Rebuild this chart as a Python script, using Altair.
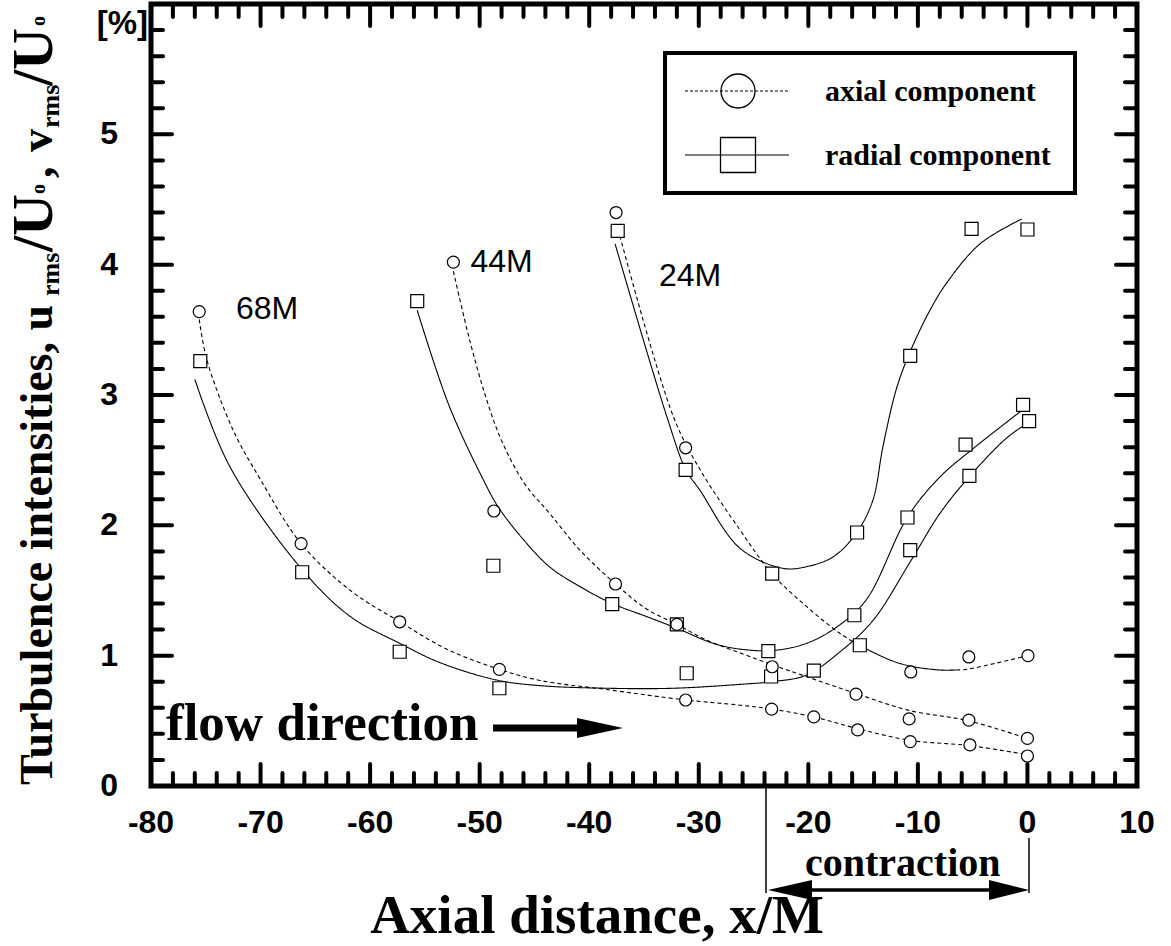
import altair as alt
import pandas as pd

# ---------------- measured points (x/M, intensity in %) ----------------
x68_axial = [-75.6, -66.3, -57.3, -48.2, -31.2, -23.35, -19.5, -15.5, -10.7, -5.25, 0.0]
y68_axial = [3.64, 1.86, 1.26, 0.895, 0.66, 0.59, 0.53, 0.43, 0.34, 0.315, 0.23]
x68_radial = [-75.5, -66.2, -57.3, -48.2, -31.1, -23.4, -19.5, -15.3, -10.7, -5.3, 0.15]
y68_radial = [3.26, 1.64, 1.03, 0.75, 0.865, 0.84, 0.885, 1.08, 1.81, 2.38, 2.80]

x44_axial = [-52.4, -48.7, -37.6, -32.0, -23.3, -15.65, -10.8, -5.35, 0.0]
y44_axial = [4.02, 2.11, 1.55, 1.24, 0.915, 0.705, 0.515, 0.505, 0.365]
x44_radial = [-55.7, -48.75, -37.9, -32.0, -23.65, -15.8, -10.95, -5.65, -0.4]
y44_radial = [3.72, 1.69, 1.395, 1.24, 1.035, 1.31, 2.06, 2.62, 2.925]

x24_axial = [-37.55, -31.2, -10.65, -5.35, 0.05]
y24_axial = [4.40, 2.595, 0.875, 0.99, 1.0]
x24_radial = [-37.4, -31.2, -23.3, -15.55, -10.7, -5.1, 0.0]
y24_radial = [4.26, 2.425, 1.63, 1.945, 3.30, 4.275, 4.27]

# ---------------- fitted curves ----------------
c68_axial_x = [-75.6, -74.9, -72.5, -70.0, -66.3, -61.8, -57.3, -53.0, -48.2, -44.5, -38.4, -31.2, -26.2, -23.35, -19.5, -15.5, -10.7, -5.3, 0.0]
c68_axial_y = [3.58, 3.27, 2.73, 2.35, 1.86, 1.50, 1.26, 1.05, 0.895, 0.81, 0.74, 0.66, 0.62, 0.59, 0.53, 0.44, 0.35, 0.31, 0.24]
c68_radial_x = [-76.0, -72.8, -66.2, -61.8, -57.3, -53.6, -48.45, -44.5, -38.4, -32.3, -26.2, -23.4, -20.2, -17.1, -14.1, -10.7, -8.0, -5.34, -1.9, -0.07]
c68_radial_y = [3.12, 2.45, 1.66, 1.30, 1.095, 0.946, 0.813, 0.77, 0.75, 0.75, 0.78, 0.80, 0.85, 1.03, 1.27, 1.72, 2.09, 2.37, 2.67, 2.78]

c44_axial_x = [-52.4, -51.0, -49.5, -48.0, -45.9, -43.6, -40.85, -37.6, -34.8, -32.0, -29.3, -26.2, -23.3, -20.2, -15.65, -10.8, -5.37, 0.0]
c44_axial_y = [3.95, 3.45, 3.0, 2.65, 2.32, 2.09, 1.81, 1.55, 1.36, 1.24, 1.12, 1.02, 0.93, 0.84, 0.71, 0.58, 0.50, 0.365]
c44_radial_x = [-55.7, -52.8, -49.67, -48.3, -46.0, -43.6, -40.85, -37.9, -34.76, -32.0, -28.7, -26.2, -23.2, -20.15, -17.4, -14.7, -10.97, -8.0, -4.94, -0.38]
c44_radial_y = [3.65, 2.92, 2.35, 2.14, 1.89, 1.68, 1.53, 1.40, 1.30, 1.21, 1.095, 1.05, 1.04, 1.095, 1.22, 1.43, 2.06, 2.37, 2.59, 2.89]

c24_axial_dot_x = [-37.2, -32.3, -29.9, -26.24, -23.3, -20.15, -17.1, -15.3]
c24_axial_dot_y = [4.22, 2.83, 2.43, 1.965, 1.627, 1.376, 1.17, 1.077]
c24_axial_solid_x = [-15.3, -12.55, -10.7, -8.0, -6.5]
c24_axial_solid_y = [1.077, 0.967, 0.92, 0.89, 0.89]
c24_axial_tail_x = [-6.5, -5.55, -3.0, 0.0]
c24_axial_tail_y = [0.89, 0.895, 0.94, 1.0]
c24_radial_x = [-37.64, -32.9, -31.2, -29.9, -26.24, -22.3, -20.15, -17.7, -15.56, -14.1, -13.2, -11.95, -10.72, -8.9, -7.37, -4.33, -0.53]
c24_radial_y = [4.16, 2.83, 2.43, 2.27, 1.824, 1.67, 1.683, 1.76, 1.947, 2.195, 2.60, 3.05, 3.33, 3.65, 3.86, 4.16, 4.35]

# ---------------- axis ticks ----------------
x_major = list(range(-80, 11, 10))
x_minor = [v for v in range(-78, 10, 2) if v % 10 != 0]
y_major = [0, 1, 2, 3, 4, 5, 6]
y_minor = [round(i * 0.2, 1) for i in range(1, 30) if i % 5 != 0]
x_labels = list(range(-80, 11, 10))
x_label_text = [str(v) for v in x_labels]
y_labels = [0, 1, 2, 3, 4, 5]
y_label_text = [str(v) for v in y_labels]

# ---------------- text ----------------
station_labels = ["68M", "44M", "24M"]
station_x = [-69.4, -48.0, -30.8]
station_y = [3.66, 4.02, 3.91]

legend_labels = ["axial component", "radial component"]

# y-axis title pieces (plain text and subscripts), drawn bottom-to-top
ytitle_parts = ["Turbulence intensities, u", "rms", "/U", "o", " ,", "v", "rms", "/U", "o"]
ytitle_sizes = [46, 26, 58, 20, 46, 46, 26, 58, 20]
ytitle_start = [781, 292, 248, 190, 174, 148, 124, 82, 22]
ytitle_base = [-99, -92, -99, -106, -99, -99, -92, -99, -106]

W, H = 986, 782

xs = alt.Scale(domain=[-80, 10], nice=False, zero=False)
ys = alt.Scale(domain=[0, 6], nice=False, zero=False)

# ---------------- data tables ----------------
pts = []
for xv, yv, comp in [
    (x68_axial, y68_axial, "axial"), (x68_radial, y68_radial, "radial"),
    (x44_axial, y44_axial, "axial"), (x44_radial, y44_radial, "radial"),
    (x24_axial, y24_axial, "axial"), (x24_radial, y24_radial, "radial"),
]:
    for a, b in zip(xv, yv):
        pts.append({"x": a, "y": b, "comp": comp})
pts = pd.DataFrame(pts)

curves = []
for name, xv, yv, style in [
    ("68a", c68_axial_x, c68_axial_y, "dot"),
    ("68r", c68_radial_x, c68_radial_y, "solid"),
    ("44a", c44_axial_x, c44_axial_y, "dot"),
    ("44r", c44_radial_x, c44_radial_y, "solid"),
    ("24a1", c24_axial_dot_x, c24_axial_dot_y, "dot"),
    ("24a2", c24_axial_solid_x, c24_axial_solid_y, "solid"),
    ("24a3", c24_axial_tail_x, c24_axial_tail_y, "dot"),
    ("24r", c24_radial_x, c24_radial_y, "solid"),
]:
    for a, b in zip(xv, yv):
        curves.append({"x": a, "y": b, "curve": name, "style": style})
curves = pd.DataFrame(curves)

X = lambda f: alt.X(f, scale=xs, axis=None)
Y = lambda f: alt.Y(f, scale=ys, axis=None)

lines = alt.Chart(curves).mark_line(interpolate="catmull-rom", color="black", strokeWidth=1.1).encode(
    x=X("x:Q"), y=Y("y:Q"),
    detail="curve:N",
    strokeDash=alt.StrokeDash("style:N", scale=alt.Scale(domain=["dot", "solid"], range=[[4, 3], [1, 0]]), legend=None),
)

circles = alt.Chart(pts[pts.comp == "axial"]).mark_point(
    shape="circle", size=144, filled=True, fill="white", stroke="black", strokeWidth=1.2, opacity=1
).encode(x=X("x:Q"), y=Y("y:Q"))

squares = alt.Chart(pts[pts.comp == "radial"]).mark_point(
    shape="square", size=169, filled=True, fill="white", stroke="black", strokeWidth=1.2, opacity=1
).encode(x=X("x:Q"), y=Y("y:Q"))

stations = alt.Chart(pd.DataFrame({"x": station_x, "y": station_y, "t": station_labels})).mark_text(
    font="Liberation Sans", fontSize=32, color="black", baseline="middle", align="center"
).encode(x=X("x:Q"), y=Y("y:Q"), text="t:N")

# tick labels (plain hyphen for the minus sign)
xlab = alt.Chart(pd.DataFrame({"v": x_labels, "t": x_label_text})).mark_text(
    font="Liberation Sans", fontWeight="bold", fontSize=32, color="black", baseline="top", align="center"
).encode(x=X("v:Q"), y=alt.value(H + 22), text="t:N")
ylab = alt.Chart(pd.DataFrame({"v": y_labels, "t": y_label_text})).mark_text(
    font="Liberation Sans", fontWeight="bold", fontSize=32, color="black", baseline="middle", align="right"
).encode(y=Y("v:Q"), x=alt.value(-33), text="t:N")

# inward ticks on all four sides
def tick_layer(vals, channel, side, length):
    df = pd.DataFrame({"v": vals})
    base = alt.Chart(df).mark_rule(color="black", strokeWidth=4, strokeCap="round")
    if channel == "x":
        enc = {"x": X("v:Q")}
        if side == "bottom":
            enc.update(y=alt.value(H), y2=alt.value(H - length))
        else:
            enc.update(y=alt.value(0), y2=alt.value(length))
    else:
        enc = {"y": Y("v:Q")}
        if side == "left":
            enc.update(x=alt.value(0), x2=alt.value(length))
        else:
            enc.update(x=alt.value(W), x2=alt.value(W - length))
    return base.encode(**enc)

ticks = [
    tick_layer(x_major, "x", "bottom", 22), tick_layer(x_minor, "x", "bottom", 13),
    tick_layer(x_major, "x", "top", 22), tick_layer(x_minor, "x", "top", 13),
    tick_layer(y_major, "y", "left", 21), tick_layer(y_minor, "y", "left", 12),
    tick_layer(y_major, "y", "right", 21), tick_layer(y_minor, "y", "right", 12),
]

one = pd.DataFrame({"k": [0]})

# legend box
legend_box = alt.Chart(one).mark_rect(fill="white", stroke="black", strokeWidth=4).encode(
    x=alt.value(514), x2=alt.value(924), y=alt.value(49), y2=alt.value(189))
leg_line1 = alt.Chart(one).mark_rule(color="black", strokeWidth=1, strokeDash=[3, 2]).encode(
    x=alt.value(534), x2=alt.value(638), y=alt.value(87))
leg_line2 = alt.Chart(one).mark_rule(color="black", strokeWidth=1).encode(
    x=alt.value(534), x2=alt.value(638), y=alt.value(151))
leg_circle = alt.Chart(one).mark_point(
    shape="circle", size=1156, filled=False, stroke="black", strokeWidth=1.3, opacity=1
).encode(x=alt.value(587), y=alt.value(87))
leg_square = alt.Chart(one).mark_point(
    shape="square", size=1225, filled=False, stroke="black", strokeWidth=1.3, opacity=1
).encode(x=alt.value(587), y=alt.value(151))
leg_text = alt.Chart(pd.DataFrame({"t": legend_labels, "px": [674, 674], "py": [97, 161]})).mark_text(
    font="Liberation Serif", fontWeight="bold", fontSize=30, align="left", baseline="alphabetic", color="black"
).encode(x=alt.X("px:Q", scale=None), y=alt.Y("py:Q", scale=None), text="t:N")

# y-axis title
ytitle = alt.Chart(pd.DataFrame({
    "t": ytitle_parts, "fs": ytitle_sizes, "py": ytitle_start, "px": ytitle_base
})).mark_text(
    font="Liberation Serif", fontWeight="bold", angle=270, align="left", baseline="alphabetic", color="black"
).encode(x=alt.X("px:Q", scale=None), y=alt.Y("py:Q", scale=None), text="t:N",
         size=alt.Size("fs:Q", scale=None, legend=None))

pct = alt.Chart(pd.DataFrame({"t": ["[%]"], "px": [-3], "py": [30]})).mark_text(
    font="Liberation Sans", fontWeight="bold", fontSize=33, align="right", baseline="alphabetic", color="black"
).encode(x=alt.X("px:Q", scale=None), y=alt.Y("py:Q", scale=None), text="t:N")

xtitle = alt.Chart(pd.DataFrame({"t": ["Axial distance, x/M"], "px": [446], "py": [929]})).mark_text(
    font="Liberation Serif", fontWeight="bold", fontSize=55, align="center", baseline="alphabetic", color="black"
).encode(x=alt.X("px:Q", scale=None), y=alt.Y("py:Q", scale=None), text="t:N")

# flow direction annotation
flow_text = alt.Chart(pd.DataFrame({"t": ["flow direction"], "px": [15], "py": [736]})).mark_text(
    font="Liberation Serif", fontWeight="bold", fontSize=53, align="left", baseline="alphabetic", color="black"
).encode(x=alt.X("px:Q", scale=None), y=alt.Y("py:Q", scale=None), text="t:N")
flow_shaft = alt.Chart(one).mark_rule(color="black", strokeWidth=7).encode(
    x=alt.value(342), x2=alt.value(436), y=alt.value(724))
flow_head = alt.Chart(one).mark_point(
    shape="M -1 -0.43 L 1 0 L -1 0.43 Z", size=2116, filled=True, color="black", opacity=1
).encode(x=alt.value(449), y=alt.value(724))

# contraction span annotation
con_text = alt.Chart(pd.DataFrame({"t": ["contraction"], "px": [654], "py": [872]})).mark_text(
    font="Liberation Serif", fontWeight="bold", fontSize=40, align="left", baseline="alphabetic", color="black"
).encode(x=alt.X("px:Q", scale=None), y=alt.Y("py:Q", scale=None), text="t:N")
con_left = alt.Chart(one).mark_rule(color="black", strokeWidth=1.5).encode(
    x=alt.value(615), y=alt.value(782), y2=alt.value(889))
con_right = alt.Chart(one).mark_rule(color="black", strokeWidth=1.5).encode(
    x=alt.value(878), y=alt.value(834), y2=alt.value(889))
con_shaft = alt.Chart(one).mark_rule(color="black", strokeWidth=3.5).encode(
    x=alt.value(630), x2=alt.value(866), y=alt.value(886))
con_head_l = alt.Chart(one).mark_point(
    shape="M 1 -0.45 L -1 0 L 1 0.45 Z", size=1936, filled=True, color="black", opacity=1
).encode(x=alt.value(639), y=alt.value(886))
con_head_r = alt.Chart(one).mark_point(
    shape="M -1 -0.5 L 1 0 L -1 0.5 Z", size=1600, filled=True, color="black", opacity=1
).encode(x=alt.value(858), y=alt.value(886))

chart = alt.layer(
    lines, squares, circles, stations, *ticks, xlab, ylab,
    legend_box, leg_line1, leg_line2, leg_circle, leg_square, leg_text,
    ytitle, pct, xtitle, flow_text, flow_shaft, flow_head,
    con_text, con_left, con_right, con_shaft, con_head_l, con_head_r,
).properties(
    width=W, height=H,
    autosize=alt.AutoSizeParams(type="none"),
    padding={"left": 151, "top": 4, "right": 1171 - 151 - W, "bottom": 946 - 4 - H},
    background="white",
).configure_view(stroke="black", strokeWidth=5)

chart.save("out.html", embed_options={"renderer": "svg", "actions": False})
